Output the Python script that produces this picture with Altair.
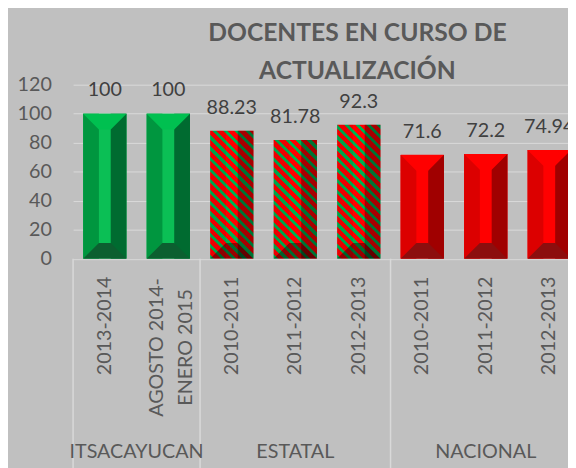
import altair as alt
import pandas as pd

# ---------------- data ----------------
groups = ["ITSACAYUCAN", "ITSACAYUCAN", "ESTATAL", "ESTATAL", "ESTATAL",
          "NACIONAL", "NACIONAL", "NACIONAL"]
periods = ["2013-2014", "AGOSTO 2014-\nENERO 2015", "2010-2011", "2011-2012",
           "2012-2013", "2010-2011", "2011-2012", "2012-2013"]
values = [100, 100, 88.23, 81.78, 92.3, 71.6, 72.2, 74.94]
group_names = ["ITSACAYUCAN", "ESTATAL", "NACIONAL"]
y_ticks = [0, 20, 40, 60, 80, 100, 120]
title_lines = ["DOCENTES EN CURSO DE", "ACTUALIZACIÓN"]

# ---------------- layout / style ----------------
BAND = 64.4          # px per category
PLOT_W = 502
PLOT_H = 176.5
PAD_L = 66
PAD_T = 74.5
TOTAL_W = 568
TOTAL_H = 460
BW = 0.683           # bar width as fraction of band
BEVEL = 16.0         # bevel size px
FONT = "Lato"
BG = "#C0C0C0"
GRID = "#D9D9D9"
AXIS_TXT = "#595959"
LABEL_TXT = "#404040"
STRIPE_P = 11.0      # stripe period px (horizontal)
STRIPE_G = 0.40      # green fraction of period

XMAX = PLOT_W / BAND
bar_px = BW * BAND
bev_u = BEVEL / BAND

styles = {
    "ITSACAYUCAN": dict(kind="solid", left="#00963F", center="#0BBF55", right="#006B30",
                        top="#00C050", bottom="#0C5F30"),
    "ESTATAL": dict(kind="striped", red="#FF0000", green="#00B050"),
    "NACIONAL": dict(kind="solid", left="#DC0000", center="#FF0000", right="#A00000",
                     top="#FF0000", bottom="#8C0E0E"),
}

rows = []
for i, (g, p, v) in enumerate(zip(groups, periods, values)):
    st = styles[g]
    solid = st["kind"] == "solid"
    x0 = i + (1 - BW) / 2
    x1 = i + (1 + BW) / 2
    rows.append(dict(
        idx=i, xc=i + 0.5, group=g, period=p, value=v, zero=0,
        label=f"{v:g}", kind=st["kind"],
        x0=x0, x1=x1, xl=x0 + bev_u, xr=x1 - bev_u,
        center_fill=st.get("center", "#000000"),
        left_fill=st["left"] if solid else "#000000", left_op=1.0 if solid else 0.08,
        right_fill=st["right"] if solid else "#000000", right_op=1.0 if solid else 0.35,
        top_fill=st.get("top", "#000000"),
        bottom_fill=st["bottom"] if solid else "#000000", bottom_op=1.0 if solid else 0.4,
    ))
df = pd.DataFrame(rows)

# group separators / centers
counts = [groups.count(g) for g in group_names]
bounds = [0]
for c in counts:
    bounds.append(bounds[-1] + c)
sep_df = pd.DataFrame({"sep": bounds[:-1]})
grp_df = pd.DataFrame({"name": group_names,
                       "gc": [(bounds[k] + bounds[k + 1]) / 2 for k in range(len(group_names))]})

xscale = alt.Scale(domain=[0, XMAX], nice=False, zero=False)
yscale = alt.Scale(domain=[0, 120], nice=False, zero=True)
yaxis = alt.Axis(values=y_ticks, grid=True, gridColor=GRID, gridWidth=1, domain=False,
                 ticks=False, labelFont=FONT, labelFontSize=20, labelColor=AXIS_TXT,
                 labelPadding=22, labelFlush=False, labelOverlap=False, title=None)

base = alt.Chart(df)

solid_df = df[df["kind"] == "solid"]
striped_df = df[df["kind"] == "striped"]

# base solid bars
bars_solid = alt.Chart(solid_df).mark_bar(clip=True, strokeWidth=0).encode(
    x=alt.X("x0:Q", scale=xscale, axis=None),
    x2="x1:Q",
    y=alt.Y("value:Q", scale=yscale, axis=yaxis),
    y2="zero:Q",
    color=alt.Color("center_fill:N", scale=None),
)

# striped bars: diagonal stripes via hard-stop gradient
def stripe_gradient(v):
    w = bar_px
    h = v * PLOT_H / 120.0
    s = (1 / h + 1 / w) / (1 / h ** 2 + 1 / w ** 2)
    x2 = s / h
    y2 = 1 - s / w
    dt = STRIPE_P / (w + h)
    stops = []
    k = 0
    red = styles["ESTATAL"]["red"]
    green = styles["ESTATAL"]["green"]
    while k * dt < 1:
        a = k * dt
        b = min(1.0, a + STRIPE_G * dt)
        c = min(1.0, (k + 1) * dt)
        stops += [alt.GradientStop(offset=a, color=green), alt.GradientStop(offset=b, color=green),
                  alt.GradientStop(offset=b, color=red), alt.GradientStop(offset=c, color=red)]
        k += 1
    return alt.LinearGradient(gradient="linear", stops=stops, x1=0, y1=1, x2=x2, y2=y2)

striped_layers = []
for _, r in striped_df.iterrows():
    striped_layers.append(
        alt.Chart(striped_df[striped_df["idx"] == r["idx"]]).mark_bar(
            clip=True, strokeWidth=0, fill=stripe_gradient(r["value"])).encode(
            x=alt.X("x0:Q", scale=xscale, axis=None),
            x2="x1:Q",
            y=alt.Y("value:Q", scale=yscale, axis=yaxis),
            y2="zero:Q",
        )
    )

left_strip = base.mark_bar(clip=True, strokeWidth=0).encode(
    x=alt.X("x0:Q", scale=xscale, axis=None), x2="xl:Q",
    y=alt.Y("value:Q", scale=yscale, axis=yaxis), y2="zero:Q",
    color=alt.Color("left_fill:N", scale=None),
    opacity=alt.Opacity("left_op:Q", scale=None),
)
right_strip = base.mark_bar(clip=True, strokeWidth=0).encode(
    x=alt.X("xr:Q", scale=xscale, axis=None), x2="x1:Q",
    y=alt.Y("value:Q", scale=yscale, axis=yaxis), y2="zero:Q",
    color=alt.Color("right_fill:N", scale=None),
    opacity=alt.Opacity("right_op:Q", scale=None),
)

hh = BEVEL / bar_px
ix = 1 - 2 * BEVEL / bar_px
top_path = f"M-1,{-hh:.4f}L1,{-hh:.4f}L{ix:.4f},{hh:.4f}L{-ix:.4f},{hh:.4f}Z"
bot_path = f"M{-ix:.4f},{-hh:.4f}L{ix:.4f},{-hh:.4f}L1,{hh:.4f}L-1,{hh:.4f}Z"
sym_size = bar_px ** 2

top_trap = alt.Chart(solid_df).mark_point(
    shape=top_path, filled=True, size=sym_size, strokeWidth=0, clip=True, yOffset=BEVEL / 2
).encode(
    x=alt.X("xc:Q", scale=xscale, axis=None),
    y=alt.Y("value:Q", scale=yscale, axis=yaxis),
    color=alt.Color("top_fill:N", scale=None),
    opacity=alt.value(1),
)
bot_trap = base.mark_point(
    shape=bot_path, filled=True, size=sym_size, strokeWidth=0, clip=True, yOffset=-BEVEL / 2
).encode(
    x=alt.X("xc:Q", scale=xscale, axis=None),
    y=alt.Y("zero:Q", scale=yscale, axis=yaxis),
    color=alt.Color("bottom_fill:N", scale=None),
    opacity=alt.Opacity("bottom_op:Q", scale=None),
)

value_labels = base.mark_text(
    font=FONT, fontSize=20, color=LABEL_TXT, align="center", baseline="alphabetic", dy=-17.5
).encode(
    x=alt.X("xc:Q", scale=xscale, axis=None),
    y=alt.Y("value:Q", scale=yscale, axis=yaxis),
    text="label:N",
)

single_df = df[~df["period"].str.contains("\n")]
multi_df = df[df["period"].str.contains("\n")]

cat_single = alt.Chart(single_df).mark_text(
    font=FONT, fontSize=20, color=AXIS_TXT, angle=270, align="right", baseline="middle"
).encode(
    x=alt.X("xc:Q", scale=xscale, axis=None),
    y=alt.value(194.5),
    text="period:N",
)
cat_multi = alt.Chart(multi_df).mark_text(
    font=FONT, fontSize=20, color=AXIS_TXT, angle=270, align="center", baseline="middle",
    lineBreak="\n", lineHeight=30, xOffset=-11.5
).encode(
    x=alt.X("xc:Q", scale=xscale, axis=None),
    y=alt.value(266.5),
    text="period:N",
)

group_labels = alt.Chart(grp_df).mark_text(
    font=FONT, fontSize=20, color=AXIS_TXT, align="center", baseline="alphabetic"
).encode(
    x=alt.X("gc:Q", scale=xscale, axis=None),
    y=alt.value(378.2),
    text="name:N",
)

separators = alt.Chart(sep_df).mark_rule(color=GRID, strokeWidth=1.5).encode(
    x=alt.X("sep:Q", scale=xscale, axis=None),
    y=alt.value(PLOT_H),
    y2=alt.value(TOTAL_H - PAD_T + 5),
)

title_df = pd.DataFrame({"t": title_lines, "ty": [-44.2, -5.8]})
title = alt.Chart(title_df).mark_text(
    font=FONT, fontSize=25, fontWeight="bold", color=AXIS_TXT, align="center",
    baseline="alphabetic"
).encode(
    x=alt.value(354.4 - PAD_L),
    y=alt.Y("ty:Q", scale=None),
    text="t:N",
)

chart = alt.layer(
    bars_solid, *striped_layers, left_strip, right_strip, top_trap, bot_trap,
    value_labels, separators, cat_single, cat_multi, group_labels, title
).properties(
    width=PLOT_W, height=PLOT_H,
    padding={"left": PAD_L, "top": PAD_T, "right": TOTAL_W - PAD_L - PLOT_W,
             "bottom": TOTAL_H - PAD_T - PLOT_H},
    autosize=alt.AutoSizeParams(type="none"),
    background=BG,
).configure_view(stroke=None)

chart.save("out.html", embed_options={"renderer": "svg", "actions": False})
